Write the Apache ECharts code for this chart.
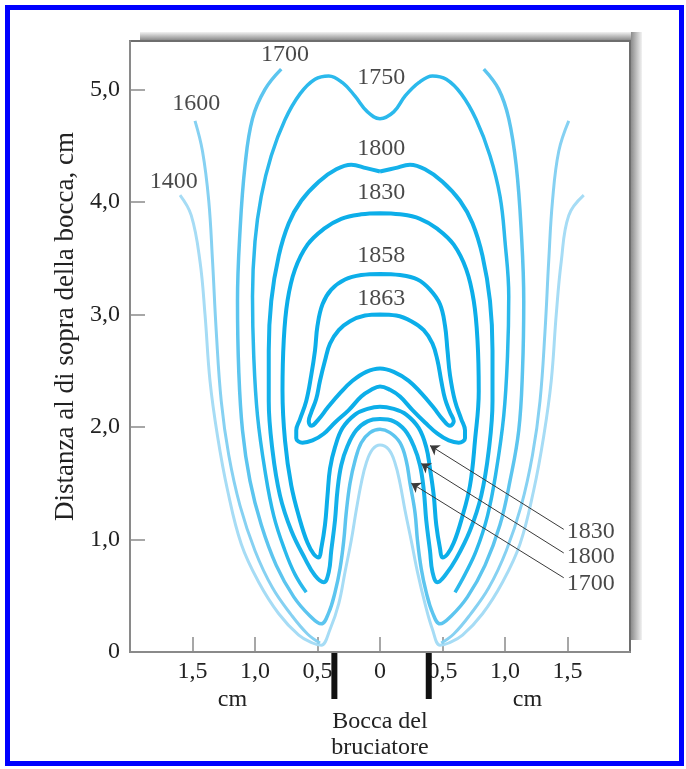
<!DOCTYPE html>
<html>
<head>
<meta charset="utf-8">
<title>Isoterme della fiamma</title>
<script src="https://cdn.jsdelivr.net/npm/echarts@6/dist/echarts.min.js"></script>
<style>
  html, body { margin: 0; padding: 0; background: #fff; }
  #chart { width: 686px; height: 769px; }
</style>
</head>
<body>
<div id="chart"></div>
<script>
// valori: x = cm dal centro della bocca, y = cm sopra la bocca
var xTicks = [-1.5, -1, -0.5, 0, 0.5, 1, 1.5];
var yTicks = [1, 2, 3, 4, 5];
var yLabels = [0, 1, 2, 3, 4, 5];

var iso1400 = [[-1.60,4.06],[-1.51,3.88],[-1.44,3.47],[-1.40,3.00],[-1.36,2.41],[-1.30,1.92],[-1.22,1.44],
  [-1.11,0.96],[-0.97,0.62],[-0.81,0.34],[-0.65,0.15],[-0.54,0.08],[-0.47,0.06],
  [-0.40,0.20],[-0.33,0.43],[-0.28,0.71],[-0.23,0.99],[-0.19,1.26],[-0.15,1.50],[-0.11,1.68],[-0.06,1.80],[0.00,1.84],
  [0.07,1.80],[0.12,1.68],[0.16,1.50],[0.20,1.26],[0.25,0.99],[0.30,0.71],[0.36,0.43],[0.42,0.20],[0.48,0.06],
  [0.55,0.08],[0.66,0.15],[0.82,0.34],[0.98,0.62],[1.12,0.96],[1.23,1.44],[1.31,1.92],[1.37,2.41],[1.41,3.00],
  [1.45,3.47],[1.51,3.88],[1.63,4.06]];

var iso1600Left = [[-1.48,4.72],[-1.42,4.45],[-1.37,4.01],[-1.34,3.48],[-1.31,2.85],[-1.27,2.23],[-1.21,1.75],
  [-1.12,1.30],[-1.00,0.90],[-0.86,0.57],[-0.71,0.33],[-0.58,0.16],[-0.48,0.08]];
var iso1600Right = [[0.49,0.08],[0.59,0.16],[0.72,0.33],[0.87,0.57],[1.01,0.90],[1.13,1.30],[1.22,1.75],
  [1.28,2.23],[1.32,2.85],[1.35,3.48],[1.38,4.01],[1.43,4.45],[1.51,4.72]];

var iso1700 = [[-0.79,5.18],[-0.92,5.00],[-1.02,4.74],[-1.08,4.32],[-1.12,3.74],[-1.14,3.12],[-1.13,2.50],
  [-1.10,1.97],[-1.04,1.52],[-0.95,1.13],[-0.83,0.77],[-0.69,0.49],[-0.56,0.32],[-0.47,0.25],
  [-0.41,0.35],[-0.36,0.53],[-0.32,0.74],[-0.29,0.99],[-0.27,1.24],[-0.24,1.50],[-0.20,1.70],[-0.15,1.86],[-0.08,1.95],[0.00,1.98],
  [0.08,1.95],[0.16,1.86],[0.21,1.70],[0.24,1.50],[0.28,1.24],[0.30,0.99],[0.33,0.74],[0.37,0.53],[0.42,0.35],[0.48,0.25],
  [0.57,0.32],[0.70,0.49],[0.84,0.77],[0.96,1.13],[1.04,1.52],[1.11,1.97],[1.14,2.50],[1.15,3.12],[1.13,3.74],
  [1.09,4.32],[1.03,4.74],[0.95,5.00],[0.83,5.18]];

var iso1750 = [[-0.59,0.53],[-0.68,0.69],[-0.76,0.90],[-0.85,1.21],[-0.92,1.61],[-0.98,2.10],[-1.01,2.63],
  [-1.02,3.16],[-1.00,3.65],[-0.95,4.05],[-0.87,4.41],[-0.76,4.73],[-0.64,4.96],[-0.52,5.09],[-0.41,5.12],
  [-0.30,5.06],[-0.20,4.94],[-0.10,4.80],[0.00,4.74],[0.11,4.80],[0.20,4.94],[0.31,5.06],[0.42,5.12],
  [0.53,5.09],[0.65,4.96],[0.77,4.73],[0.88,4.41],[0.96,4.05],[1.00,3.65],[1.03,3.16],[1.02,2.63],
  [0.99,2.10],[0.93,1.61],[0.86,1.21],[0.77,0.90],[0.68,0.69],[0.60,0.53]];

var iso1800 = [[0.00,4.27],[-0.11,4.30],[-0.23,4.33],[-0.35,4.29],[-0.49,4.18],[-0.63,4.01],[-0.73,3.81],
  [-0.81,3.52],[-0.87,3.12],[-0.89,2.68],[-0.89,2.23],[-0.86,1.79],[-0.80,1.39],[-0.71,1.08],[-0.60,0.83],
  [-0.52,0.68],[-0.45,0.62],[-0.41,0.71],[-0.39,0.90],[-0.36,1.17],[-0.34,1.44],[-0.31,1.66],[-0.26,1.83],
  [-0.19,1.97],[-0.10,2.05],[0.00,2.07],[0.11,2.05],[0.20,1.97],[0.27,1.83],[0.32,1.66],[0.35,1.44],
  [0.37,1.17],[0.40,0.90],[0.42,0.71],[0.46,0.62],[0.52,0.68],[0.61,0.83],[0.72,1.08],[0.81,1.39],
  [0.87,1.79],[0.90,2.23],[0.90,2.68],[0.88,3.12],[0.82,3.52],[0.74,3.81],[0.64,4.01],[0.50,4.18],
  [0.36,4.29],[0.24,4.33],[0.12,4.30],[0.00,4.27]];

var iso1830 = [[0.00,3.90],[-0.15,3.89],[-0.31,3.85],[-0.45,3.76],[-0.58,3.62],[-0.68,3.40],[-0.74,3.12],
  [-0.77,2.77],[-0.78,2.32],[-0.76,1.88],[-0.71,1.48],[-0.64,1.17],[-0.58,0.97],[-0.53,0.87],[-0.49,0.84],
  [-0.47,0.92],[-0.44,1.13],[-0.42,1.39],[-0.40,1.63],[-0.36,1.82],[-0.30,1.99],[-0.20,2.11],[-0.10,2.16],
  [0.00,2.18],[0.11,2.16],[0.21,2.11],[0.31,1.99],[0.37,1.82],[0.40,1.63],[0.43,1.39],[0.45,1.13],
  [0.48,0.92],[0.50,0.84],[0.54,0.87],[0.59,0.97],[0.65,1.17],[0.72,1.48],[0.76,1.88],[0.79,2.32],
  [0.78,2.77],[0.75,3.12],[0.69,3.40],[0.59,3.62],[0.46,3.76],[0.32,3.85],[0.16,3.89],[0.00,3.90]];

var iso1858 = [[0.00,3.36],[-0.15,3.35],[-0.28,3.31],[-0.39,3.22],[-0.46,3.09],[-0.50,2.90],[-0.52,2.68],
  [-0.55,2.46],[-0.59,2.23],[-0.64,2.07],[-0.67,1.97],[-0.67,1.90],[-0.62,1.86],[-0.54,1.88],[-0.45,1.94],
  [-0.36,2.04],[-0.25,2.15],[-0.15,2.27],[-0.07,2.33],[0.00,2.36],[0.08,2.33],[0.16,2.27],[0.26,2.15],
  [0.36,2.04],[0.46,1.94],[0.55,1.88],[0.63,1.86],[0.68,1.90],[0.68,1.97],[0.65,2.07],[0.60,2.23],
  [0.56,2.46],[0.54,2.68],[0.52,2.90],[0.48,3.09],[0.40,3.22],[0.30,3.31],[0.16,3.35],[0.00,3.36]];

var iso1863 = [[0.00,3.00],[-0.12,2.99],[-0.24,2.94],[-0.33,2.86],[-0.40,2.74],[-0.44,2.59],[-0.48,2.41],
  [-0.51,2.25],[-0.55,2.13],[-0.57,2.05],[-0.55,2.01],[-0.49,2.07],[-0.42,2.17],[-0.32,2.30],[-0.22,2.41],
  [-0.11,2.49],[0.00,2.52],[0.11,2.49],[0.23,2.41],[0.33,2.30],[0.43,2.17],[0.50,2.07],[0.56,2.01],
  [0.59,2.05],[0.56,2.13],[0.52,2.25],[0.49,2.41],[0.46,2.59],[0.42,2.74],[0.35,2.86],[0.25,2.94],
  [0.13,2.99],[0.00,3.00]];

var curveLabels = [['1400', -1.65, 4.18], ['1600', -1.47, 4.87], ['1700', -0.76, 5.31], ['1750', 0.01, 5.10],
  ['1800', 0.01, 4.47], ['1830', 0.01, 4.08], ['1858', 0.01, 3.52], ['1863', 0.01, 3.14]];

var arrowNames = ['1830', '1800', '1700'];
var arrowTips = [[0.40, 1.835], [0.33, 1.675], [0.25, 1.50]];
var arrowTails = [[1.47, 1.09], [1.47, 0.88], [1.47, 0.66]];
var arrowTextPos = [[1.49, 1.07], [1.49, 0.85], [1.49, 0.61]];

var burnerEdges = [-0.365, 0.39];
var unitLabelX = [-1.18, 1.18];

var serif = 'Liberation Serif';
var fs = 24;

function curve(data, color, width) {
  return {
    type: 'line', data: data, smooth: 0.4, showSymbol: false, symbol: 'none',
    lineStyle: { color: color, width: width }, silent: true, z: 3
  };
}
function comma(v) {
  return v === 0 ? '0' : Math.abs(v).toFixed(1).replace('.', ',');
}

var chart = echarts.init(document.getElementById('chart'));
chart.setOption({
  animation: false,
  backgroundColor: '#fff',
  grid: { left: 130, right: 56, top: 41, bottom: 117, show: true, borderColor: '#6e6e6e', borderWidth: 2, backgroundColor: '#fff' },
  xAxis: {
    type: 'value', min: -2, max: 2, interval: 0.5,
    axisLine: { onZero: false, lineStyle: { color: '#8a8a8a', width: 2 } },
    axisTick: { inside: true, length: 15, customValues: xTicks, lineStyle: { color: '#8a8a8a', width: 1.5 } },
    axisLabel: { customValues: xTicks, formatter: comma, margin: 8, fontFamily: serif, fontSize: fs, color: '#222' },
    splitLine: { show: false }
  },
  yAxis: {
    type: 'value', min: 0, max: 5.43, interval: 1,
    name: 'Distanza al di sopra della bocca, cm', nameLocation: 'middle', nameGap: 48,
    nameTextStyle: { fontFamily: serif, fontSize: 27, color: '#222', padding: [0, 0, 0, 40] },
    axisLine: { onZero: false, lineStyle: { color: '#8a8a8a', width: 2 } },
    axisTick: { inside: true, length: 15, customValues: yTicks, lineStyle: { color: '#8a8a8a', width: 1.5 } },
    axisLabel: { customValues: yLabels, formatter: comma, margin: 10, fontFamily: serif, fontSize: fs, color: '#222' },
    splitLine: { show: false }
  },
  series: [
    curve(iso1400, '#a6dcf5', 3),
    curve(iso1600Left, '#86d1f2', 3),
    curve(iso1600Right, '#86d1f2', 3),
    curve(iso1700, '#5cc5ef', 3.5),
    curve(iso1750, '#2bb9ec', 3.5),
    curve(iso1800, '#14b1ea', 4),
    curve(iso1830, '#0caee9', 4),
    curve(iso1858, '#0caee9', 4),
    curve(iso1863, '#0caee9', 4),
    {
      type: 'lines', coordinateSystem: 'cartesian2d', silent: true, z: 4,
      symbol: ['none', 'arrow'], symbolSize: 9,
      lineStyle: { color: '#3a3a3a', width: 1, opacity: 1, curveness: 0 },
      data: arrowTails.map(function (t, i) { return { coords: [t, arrowTips[i]] }; })
    },
    {
      type: 'scatter', silent: true, z: 5, symbolSize: 1, itemStyle: { color: 'rgba(0,0,0,0)' },
      label: { show: true, position: 'inside', formatter: '{b}', fontFamily: serif, fontSize: fs, color: '#1a1a1a' },
      data: curveLabels.map(function (l) { return { name: l[0], value: [l[1], l[2]] }; })
    },
    {
      type: 'scatter', silent: true, z: 5, symbolSize: 1, itemStyle: { color: 'rgba(0,0,0,0)' },
      label: { show: true, position: 'right', distance: 0, formatter: '{b}', fontFamily: serif, fontSize: fs, color: '#1a1a1a' },
      data: arrowNames.map(function (n, i) { return { name: n, value: arrowTextPos[i] }; })
    }
  ]
});

// cornice, ombra, bocca del bruciatore e scritte sotto l'asse
var tl = chart.convertToPixel({ gridIndex: 0 }, [-2, 5.43]);
var br = chart.convertToPixel({ gridIndex: 0 }, [2, 0]);
var g = [];
g.push({ type: 'rect', z: -1, shape: { x: tl[0] + 10, y: tl[1] - 9, width: br[0] - tl[0] + 2, height: 8 },
  style: { fill: { type: 'linear', x: 0, y: 0, x2: 0, y2: 1, colorStops: [{ offset: 0, color: '#f2f2f2' }, { offset: 1, color: '#8c8c8c' }] } } });
g.push({ type: 'rect', z: -1, shape: { x: br[0] + 1, y: tl[1] - 9, width: 11, height: br[1] - tl[1] - 3 },
  style: { fill: { type: 'linear', x: 0, y: 0, x2: 1, y2: 0, colorStops: [{ offset: 0, color: '#8c8c8c' }, { offset: 1, color: '#f2f2f2' }] } } });
burnerEdges.forEach(function (b) {
  var p = chart.convertToPixel({ gridIndex: 0 }, [b, 0]);
  g.push({ type: 'rect', z: 10, shape: { x: p[0] - 3, y: p[1] + 1, width: 6, height: 46 }, style: { fill: '#111' } });
});
unitLabelX.forEach(function (u) {
  var p = chart.convertToPixel({ gridIndex: 0 }, [u, 0]);
  g.push({ type: 'text', z: 10, x: p[0], y: p[1] + 48,
    style: { text: 'cm', fontFamily: serif, fontSize: fs, fill: '#222', align: 'center', verticalAlign: 'middle' } });
});
var c = chart.convertToPixel({ gridIndex: 0 }, [0, 0]);
g.push({ type: 'text', z: 10, x: c[0], y: c[1] + 70,
  style: { text: 'Bocca del', fontFamily: serif, fontSize: fs, fill: '#222', align: 'center', verticalAlign: 'middle' } });
g.push({ type: 'text', z: 10, x: c[0], y: c[1] + 96,
  style: { text: 'bruciatore', fontFamily: serif, fontSize: fs, fill: '#222', align: 'center', verticalAlign: 'middle' } });
g.push({ type: 'rect', z: 20, shape: { x: 7.5, y: 7.5, width: 674, height: 756 }, style: { fill: 'none', stroke: '#0000ff', lineWidth: 5 } });
chart.setOption({ graphic: g });
</script>
</body>
</html>
